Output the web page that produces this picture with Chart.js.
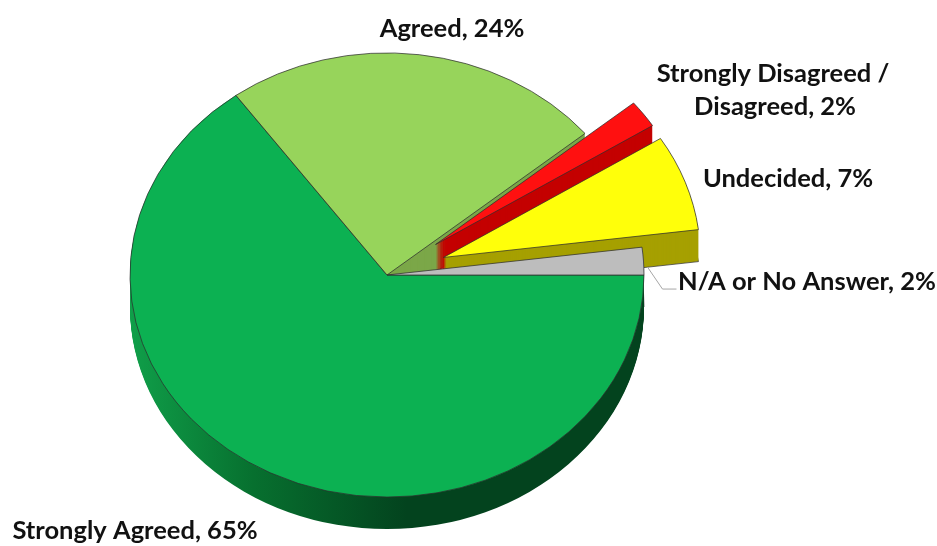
<!DOCTYPE html>
<html>
<head>
<meta charset="utf-8">
<script src="https://cdn.jsdelivr.net/npm/chart.js@4.4.0/dist/chart.umd.min.js"></script>
<style>
  html, body { margin: 0; padding: 0; background: #fff; }
</style>
</head>
<body>
<canvas id="pieCanvas" width="937" height="546"></canvas>
<script>
// data, clockwise from 3 o'clock
const categories = ["Strongly Agreed", "Agreed", "Strongly Disagreed / Disagreed", "Undecided", "N/A or No Answer"];
const percents = [65, 24, 2, 7, 2];

// look of the slices
const topColors = ["#0cb152", "#97d45b", "#ff1010", "#ffff0a", "#bdbdbd"];
const sideColors = ["#056b30", "#7ba748", "#c40000", "#a6a000", "#8a8a8a"];
const explodeDist = [0, 0, 60, 60, 0];

const TILT = 0.864;
const DEPTH = 32;

function pieCenter(chart) {
  const a = chart.chartArea;
  return [(a.left + a.right) / 2, (a.top + a.bottom) / 2];
}

function squash(ctx, cx, cy) {
  ctx.translate(cx, cy);
  ctx.scale(1, TILT);
  ctx.translate(-cx, -cy);
}

// pull the exploded slices away from the middle
const explodePlugin = {
  id: 'explode',
  afterDatasetsUpdate(chart) {
    chart.getDatasetMeta(0).data.forEach((arc, i) => {
      const half = (arc.startAngle + arc.endAngle) / 2;
      arc.x += Math.cos(half) * explodeDist[i];
      arc.y += Math.sin(half) * explodeDist[i];
    });
  }
};

const tiltPlugin = {
  id: 'tilt3d',
  beforeDatasetsDraw(chart) {
    const ctx = chart.ctx;
    const arcs = chart.getDatasetMeta(0).data;
    const [cx, cy] = pieCenter(chart);
    const grad = ctx.createLinearGradient(cx - 260, 0, cx + 20, 0);
    grad.addColorStop(0, "#10a04a");
    grad.addColorStop(0.45, "#07702f");
    grad.addColorStop(1, "#03431e");

    ctx.save();
    for (let t = DEPTH; t >= 1; t--) {
      arcs.forEach((arc, i) => {
        ctx.save();
        ctx.translate(0, t);
        squash(ctx, cx, cy);
        ctx.beginPath();
        ctx.moveTo(arc.x, arc.y);
        ctx.arc(arc.x, arc.y, arc.outerRadius, arc.startAngle, arc.endAngle);
        ctx.closePath();
        ctx.fillStyle = i === 0 ? grad : sideColors[i];
        ctx.fill();
        if (t === DEPTH && i !== 0) {
          ctx.lineWidth = 0.8;
          ctx.strokeStyle = "#333";
          ctx.stroke();
        }
        ctx.restore();
      });
    }
    squash(ctx, cx, cy);
  },
  afterDatasetsDraw(chart) {
    chart.ctx.restore();
  }
};

const labelPlugin = {
  id: 'pieLabels',
  afterDraw(chart) {
    const ctx = chart.ctx;
    const arcs = chart.getDatasetMeta(0).data;
    const [cx, cy] = pieCenter(chart);
    ctx.save();
    // leader line for the small grey slice
    const na = arcs[4];
    const mid = (na.startAngle + na.endAngle) / 2;
    const lx = cx + Math.cos(mid) * na.outerRadius + 4;
    const ly = cy + Math.sin(mid) * na.outerRadius * TILT + 6;
    ctx.strokeStyle = "#a6a6a6";
    ctx.lineWidth = 1;
    ctx.beginPath();
    ctx.moveTo(lx, ly);
    ctx.lineTo(lx + 15, ly + 22);
    ctx.lineTo(lx + 29, ly + 22);
    ctx.stroke();

    ctx.fillStyle = "#111";
    ctx.font = "bold 25.5px Lato";
    ctx.textAlign = "center";
    ctx.textBaseline = "alphabetic";
    ctx.fillText(categories[1] + ", " + percents[1] + "%", 452, 37);
    ctx.fillText("Strongly Disagreed /", 773, 82);
    ctx.fillText("Disagreed, " + percents[2] + "%", 775, 115);
    ctx.fillText(categories[3] + ", " + percents[3] + "%", 788, 187);
    ctx.fillText(categories[0] + ", " + percents[0] + "%", 135, 539);
    ctx.textAlign = "left";
    ctx.fillText(categories[4] + ", " + percents[4] + "%", 678, 290);
    ctx.restore();
  }
};

const canvas = document.getElementById('pieCanvas');
new Chart(canvas, {
  type: 'pie',
  data: {
    labels: categories,
    datasets: [{
      data: percents,
      backgroundColor: topColors,
      borderColor: "#2e2e2e",
      borderWidth: 0.8,
      hoverOffset: 0,
      clip: false
    }]
  },
  options: {
    responsive: false,
    animation: false,
    events: [],
    devicePixelRatio: 1,
    rotation: 90,
    radius: 257,
    layout: { padding: { left: 0, right: 163, top: 4, bottom: 0 } },
    plugins: {
      legend: { display: false },
      tooltip: { enabled: false }
    }
  },
  plugins: [explodePlugin, tiltPlugin, labelPlugin]
});
</script>
</body>
</html>
